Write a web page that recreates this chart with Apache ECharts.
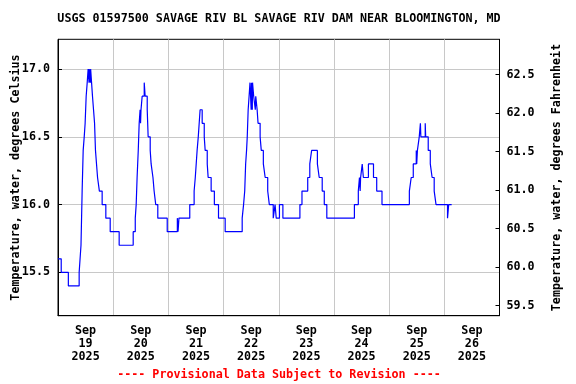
<!DOCTYPE html>
<html>
<head>
<meta charset="utf-8">
<script src="https://cdn.jsdelivr.net/npm/echarts@6/dist/echarts.min.js"></script>
<style>
html,body{margin:0;padding:0;background:#fff;}
#chart{width:576px;height:384px;}
</style>
</head>
<body>
<div id="chart"></div>
<script>
// Hours since 2025-09-19 00:00 at which the reading changes
var hours = [0,1.4,4.5,9.2,9.6,10.0,10.5,10.95,11.4,11.8,12.25,12.7,13.1,13.5,13.6,14.1,14.2,14.6,15.0,15.45,15.9,16.3,16.75,17.2,18.0,19.2,20.8,22.7,26.6,32.7,
  33.6,34.0,34.4,34.9,35.3,35.7,35.9,36.1,36.6,37.5,37.9,38.8,39.2,40.1,40.5,41.3,41.8,42.5,43.4,47.5,51.9,52.2,52.6,57.3,
  59.2,59.7,60.1,60.5,61.0,61.4,61.8,62.7,63.6,64.0,64.9,65.3,66.6,68.0,69.8,72.7,
  80.1,80.7,81.2,81.6,82.0,82.3,82.7,83.1,83.5,84.0,84.15,84.5,84.6,85.1,85.8,86.0,86.6,87.0,87.9,88.4,89.3,90.1,91.2,91.9,93.6,94.4,94.9,96.3,97.8,
  105.2,106.1,108.6,109.5,110.3,112.8,113.6,114.9,115.8,116.9,
  128.9,130.6,131.1,131.4,131.6,132.3,132.8,135.0,137.2,138.6,140.9,
  152.8,153.6,154.5,155.8,156.0,156.3,157.1,157.6,157.8,159.7,159.9,161.0,161.9,162.7,163.6,164.4,169.4,169.9,171.2];
// Water temperature, degrees Celsius
var tempC = [15.6,15.5,15.4,15.5,15.6,15.7,16.1,16.4,16.5,16.6,16.8,16.9,17.0,16.9,17.0,16.9,17.0,16.9,16.8,16.7,16.6,16.4,16.3,16.2,16.1,16.0,15.9,15.8,15.7,15.8,
  15.9,16.0,16.2,16.4,16.6,16.7,16.6,16.7,16.8,16.9,16.8,16.7,16.5,16.4,16.3,16.2,16.1,16.0,15.9,15.8,15.9,15.8,15.9,16.0,
  16.1,16.2,16.3,16.4,16.5,16.6,16.7,16.6,16.5,16.4,16.3,16.2,16.1,16.0,15.9,15.8,
  15.9,16.0,16.1,16.3,16.4,16.5,16.7,16.8,16.9,16.7,16.9,16.7,16.9,16.8,16.7,16.8,16.7,16.6,16.5,16.4,16.3,16.2,16.1,16.0,15.9,16.0,15.9,16.0,15.9,
  16.0,16.1,16.2,16.3,16.4,16.3,16.2,16.1,16.0,15.9,
  16.0,16.1,16.2,16.1,16.2,16.3,16.2,16.3,16.2,16.1,16.0,
  16.1,16.2,16.3,16.4,16.3,16.4,16.5,16.6,16.5,16.6,16.5,16.4,16.3,16.2,16.1,16.0,15.9,16.0,16.0];

var leftTicks = [15.5, 16.0, 16.5, 17.0];
var rightTicks = [59.5, 60.0, 60.5, 61.0, 61.5, 62.0, 62.5];
var dayLabelHours = [12, 36, 60, 84, 108, 132, 156, 180];
var dayNames = ['19','20','21','22','23','24','25','26'];

var FONT = '"DejaVu Sans Mono", monospace';
var data = hours.map(function (h, i) { return [h, tempC[i]]; });

var chart = echarts.init(document.getElementById('chart'), null, {renderer: 'canvas'});
chart.setOption({
  animation: false,
  backgroundColor: '#ffffff',
  grid: {left: 58, right: 76.5, top: 39.3, bottom: 68.3, show: true, borderColor: '#000', borderWidth: 1, containLabel: false, outerBoundsMode: 'none'},
  graphic: [
    {type: 'text', x: 279, y: 19, style: {text: 'USGS 01597500 SAVAGE RIV BL SAVAGE RIV DAM NEAR BLOOMINGTON, MD', fill: '#000', font: 'bold 11.7px ' + FONT, textAlign: 'center', textVerticalAlign: 'middle'}},
    {type: 'text', x: 279, y: 375, style: {text: '---- Provisional Data Subject to Revision ----', fill: '#ff0000', font: 'bold 11.7px ' + FONT, textAlign: 'center', textVerticalAlign: 'middle'}}
  ],
  xAxis: {
    type: 'value', min: 0, max: 192, interval: 24,
    axisLine: {show: true, lineStyle: {color: '#000', width: 1}},
    axisTick: {show: false},
    splitLine: {show: true, lineStyle: {color: '#c8c8c8', width: 1}},
    axisLabel: {
      show: true, customValues: dayLabelHours, margin: 9, lineHeight: 13,
      fontFamily: FONT, fontWeight: 'bold', fontSize: 11.7, color: '#000',
      formatter: function (v) { var d = Math.floor(v / 24); return 'Sep\n' + dayNames[d] + '\n2025'; }
    }
  },
  yAxis: [
    {
      type: 'value', min: 15.18, max: 17.22, position: 'left',
      name: 'Temperature, water, degrees Celsius', nameLocation: 'middle', nameGap: 36, nameRotate: 90, nameMoveOverlap: false,
      nameTextStyle: {fontFamily: FONT, fontWeight: 'bold', fontSize: 11.7, color: '#000'},
      axisLine: {show: true, lineStyle: {color: '#000'}},
      axisTick: {show: true, inside: true, length: 4, customValues: leftTicks, lineStyle: {color: '#000'}},
      splitLine: {show: true, lineStyle: {color: '#c8c8c8', width: 1}},
      axisLabel: {customValues: leftTicks, margin: 8, fontFamily: FONT, fontWeight: 'bold', fontSize: 11.7, color: '#000',
        formatter: function (v) { return v.toFixed(1); }}
    },
    {
      type: 'value', min: 59.37, max: 62.96, position: 'right',
      name: 'Temperature, water, degrees Fahrenheit', nameLocation: 'middle', nameGap: 51, nameRotate: 90, nameMoveOverlap: false,
      nameTextStyle: {fontFamily: FONT, fontWeight: 'bold', fontSize: 11.7, color: '#000'},
      axisLine: {show: true, lineStyle: {color: '#000'}},
      axisTick: {show: true, inside: true, length: 4, customValues: rightTicks, lineStyle: {color: '#000'}},
      splitLine: {show: false},
      axisLabel: {customValues: rightTicks, margin: 7, fontFamily: FONT, fontWeight: 'bold', fontSize: 11.7, color: '#000',
        formatter: function (v) { return v.toFixed(1); }}
    }
  ],
  series: [{
    type: 'line', xAxisIndex: 0, yAxisIndex: 0, step: 'end', showSymbol: false, symbol: 'none',
    lineStyle: {color: '#0000ff', width: 1.2}, data: data
  }]
});
</script>
</body>
</html>
